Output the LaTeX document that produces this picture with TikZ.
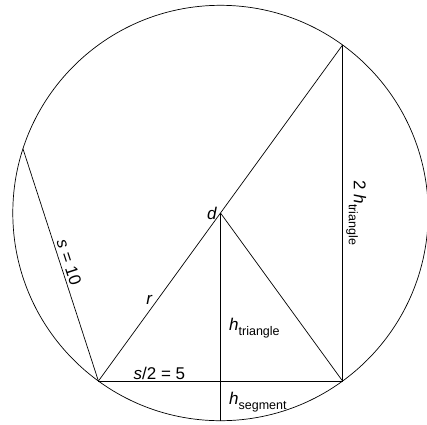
\documentclass[tikz,border=0pt]{standalone}
\usepackage{fontspec}
\setmainfont{Liberation Sans}
\newcommand{\hsub}[1]{\textit{h}\raisebox{-0.3em}{\fontsize{12.5}{14}\selectfont #1}}
\begin{document}
\begin{tikzpicture}[x=1pt,y=1pt,line width=0.7pt,
    every node/.style={font=\fontsize{17}{20}\selectfont}]
    \useasboundingbox (-220.5,-211) rectangle (206.5,213);
    % Kreis mit Mittelpunkt d
    \coordinate (d) at (0,0);
    \draw (d) circle (207.7);
    % Eckpunkte des Fuenfecks
    \coordinate (pe) at (162:207.7);
    \coordinate (pa) at (234:207.7);
    \coordinate (pb) at (306:207.7);
    \coordinate (pc) at (54:207.7);
    \coordinate (bottom) at (270:207.7);
    \coordinate (foot) at (d |- pa);

    % Seite und halbe Seite
    \draw (pe) -- node[sloped, above, inner sep=2.5pt] (lside) {\textit{s} = 10} (pa);
    \draw (pa) -- node[above, inner sep=1.5pt] (lhalf) {\textit{s}/2 = 5} (foot) -- (pb);
    % Durchmesser und Radien
    \draw (pa) -- node[pos=0.24, left, inner sep=4pt] (lr) {\textit{r}} (pc);
    \draw (d) -- (pb);
    \draw (pc) -- node[rotate=-90, anchor=south] (lhh) {2 \hsub{triangle}} (pb);
    % Hoehen
    \draw (d) -- node[pos=0.554, right, xshift=5pt] (lht) {\hsub{triangle}}
                 node[pos=0.91, right, xshift=5pt] (lhs) {\hsub{segment}} (bottom);
    \node[left, inner sep=3pt] (ld) at (d) {\textit{d}};
\end{tikzpicture}
\end{document}
